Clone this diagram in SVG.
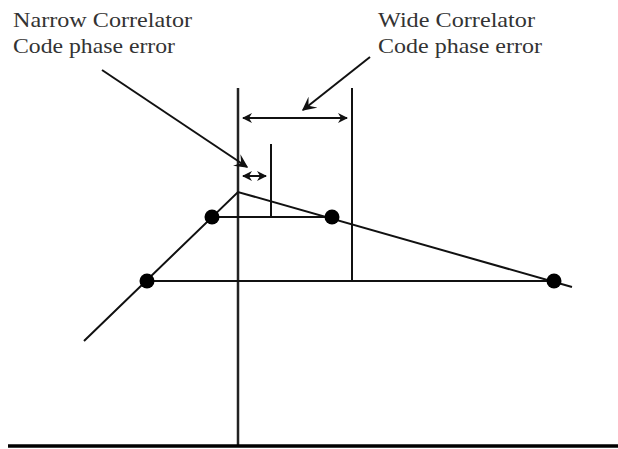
<svg xmlns="http://www.w3.org/2000/svg" width="618" height="449" viewBox="0 0 618 449">
<style>
.ln{stroke:#111;stroke-width:2;fill:none}
.ax{stroke:#222;stroke-width:2.5;fill:none}
.dot{fill:#000}
.t{font-family:"Liberation Serif","Times New Roman",serif;font-size:22px;fill:#333}
</style>
<defs>
<marker id="ah" viewBox="0 0 10 10" refX="9" refY="5" markerWidth="5" markerHeight="5" orient="auto-start-reverse" markerUnits="strokeWidth">
<path d="M0,0 L10,5 L0,10 L3,5 Z" fill="#111"/>
</marker>
<marker id="ah2" viewBox="0 0 10 10" refX="9" refY="5" markerWidth="7" markerHeight="7" orient="auto" markerUnits="strokeWidth">
<path d="M0,0 L10,5 L0,10 L4,5 Z" fill="#111"/>
</marker>
</defs>
<rect width="618" height="449" fill="#fff"/>
<g id="axes">
<line class="ax" x1="238" y1="88" x2="238" y2="446"/>
<line x1="8" y1="446" x2="618" y2="446" stroke="#000" stroke-width="3.5"/>
</g>
<g id="connectors">
<polyline class="ln" points="84,341 238,192 572,287"/>
<line class="ln" x1="212" y1="217" x2="332" y2="217"/>
<line class="ln" x1="147" y1="281" x2="554" y2="281"/>
<line class="ln" x1="271" y1="144" x2="271" y2="217"/>
<line class="ln" x1="352" y1="88" x2="352" y2="281"/>
<line class="ln" x1="243" y1="118" x2="347" y2="118" marker-start="url(#ah)" marker-end="url(#ah)"/>
<line class="ln" x1="243" y1="176" x2="266" y2="176" marker-start="url(#ah)" marker-end="url(#ah)"/>
<line class="ln" x1="370" y1="57" x2="303" y2="110" marker-end="url(#ah2)"/>
<line class="ln" x1="102" y1="70" x2="247" y2="167" marker-end="url(#ah2)"/>
</g>
<g id="points">
<circle class="dot" cx="147" cy="281" r="7.5"/>
<circle class="dot" cx="212" cy="217" r="7.5"/>
<circle class="dot" cx="332" cy="217" r="7.5"/>
<circle class="dot" cx="554" cy="281" r="7.5"/>
</g>
<g id="narrow-label">
<text class="t" x="13" y="27" textLength="179" lengthAdjust="spacingAndGlyphs">Narrow Correlator</text>
<text class="t" x="13" y="53" textLength="162" lengthAdjust="spacingAndGlyphs">Code phase error</text>
</g>
<g id="wide-label">
<text class="t" x="378" y="27" textLength="157" lengthAdjust="spacingAndGlyphs">Wide Correlator</text>
<text class="t" x="378" y="53" textLength="164" lengthAdjust="spacingAndGlyphs">Code phase error</text>
</g>
</svg>
